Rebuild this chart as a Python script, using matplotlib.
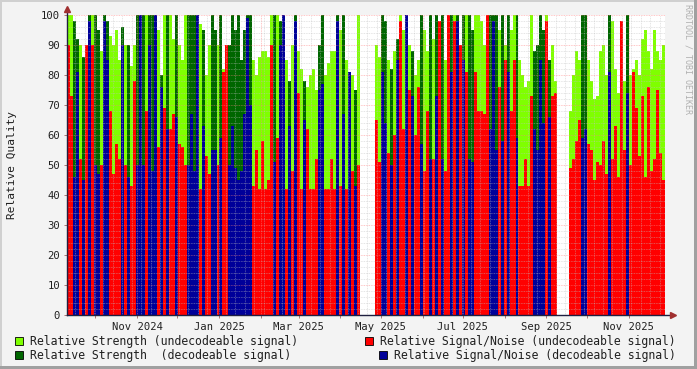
"""RRDtool-style relative quality chart (strength vs signal/noise)."""

import matplotlib

matplotlib.use("Agg")
import matplotlib.dates as mdates  # noqa: E402
import matplotlib.pyplot as plt  # noqa: E402
import numpy as np  # noqa: E402
import pandas as pd  # noqa: E402
from matplotlib.patches import Rectangle  # noqa: E402
from matplotlib.ticker import FuncFormatter, MultipleLocator  # noqa: E402

START = "2024-09-10"
END = "2025-11-28"

# one value per ~2.2 days, None = no data
strength = [
    100, 100, 98, 92, 90, 86, 88, 100, 100, 100, 95, 88, 100, 98, 93, 90, 95,
    85, 96, 90, 90, 83, 90, 100, 100, 100, 100, 100, 100, 100, 95, 80, 100,
    100, 100, 92, 100, 90, 85, 100, 100, 100, 100, 100, 97, 95, 80, 90, 100,
    95, 90, 100, 82, 90, 90, 100, 95, 100, 85, 95, 100, 100, 85, 80, 86, 88, 88,
    86, 100, 100, 100, 98, 100, 85, 78, 90, 100, 88, 82, 78, 76, 80, 82, 75,
    90, 100, 80, 84, 88, 88, 100, 95, 100, 85, 80, 80, 75, 100,
    None, None, None, None, None,
    90, 86, 100, 98, 85, 82, 88, 92, 100, 95, 100, 90, 88, 80, 85, 100, 95,
    88, 100, 92, 100, 95, 100, 85, 82, 100, 100, 100, 90, 100,
    100, 100, 95, 100, 100, 98, 90, 100, 100, 100, 100, 95, 100, 90, 100, 95,
    100, 100, 85, 80, 76, 78, 100, 88, 90, 100, 95, 100, 85, 90, 78,
    None, None, None, None,
    68, 80, 88, 85, 100, 100, 85, 78, 72, 73, 88, 90, 80, 100, 98, 82, 74, 95,
    78, 100, 80, 82, 85, 80, 92, 95, 88, 82, 95, 88, 85, 90,
]

snr = [
    90, 73, 46, 81, 52, 45, 90, 98, 90, 50, 47, 50, 98, 85, 68, 47, 57, 52,
    90, 50, 46, 43, 78, 50, 100, 50, 68, 90, 48, 100, 56, 76, 69,
    62, 62, 67, 66, 57, 56, 50, 50, 67, 48, 100, 42, 63, 53, 47, 55, 55, 50,
    59, 81, 90, 50, 63, 49, 45, 48, 67, 99, 70, 43, 55, 42, 58, 42,
    45, 90, 51, 59, 90, 100, 42, 63, 48, 98, 74, 42, 65, 62, 42, 42, 52, 75,
    77, 42, 42, 52, 42, 98, 43, 67, 42, 81, 48, 43, 50,
    None, None, None, None, None,
    65, 51, 81, 64, 54, 50, 60, 85, 98, 62, 100, 75, 73, 60, 76, 57, 48, 68,
    52, 52, 73, 98, 52, 48, 100, 81, 98, 98, 90, 85,
    81, 52, 51, 81, 68, 68, 67, 100, 62, 98, 55, 76, 58, 85, 81, 68, 85, 59,
    43, 43, 52, 43, 73, 62, 55, 85, 64, 98, 66, 73, 74,
    None, None, None, None,
    49, 52, 58, 65, 59, 62, 57, 55, 45, 51, 50, 58, 47, 81, 52, 63, 46, 98,
    55, 74, 50, 81, 69, 53, 73, 46, 76, 48, 52, 75, 54, 45,
]

# D = decodeable, U = undecodeable, - = no data
decoded = (
    "UUDDUDUDUDDUDDUUUUDUDUUDDDUDDDUDU"
    "DUUDUUUDDDDUDUUDDUDUUDDDDDDDDUUUUU"
    "UUDUDDUDUDUUDUUUUDDUUUUDUDUDUDU"
    "-----"
    "UUDDUDUDUUDUDUUDUUDUDUDUUDUDUD"
    "UDDUUUUUDDDUDUDUUDUUUUUDDDDUDUU"
    "----"
    "UUUUDDUUUUUUUDUUUUUDUUUUUUUUUUUU"
)

legend_labels = [
    "Relative Strength (undecodeable signal)",
    "Relative Strength  (decodeable signal)",
    "Relative Signal/Noise (undecodeable signal)",
    "Relative Signal/Noise (decodeable signal)",
]

LIGHT_GREEN = "#7FFF00"
DARK_GREEN = "#006600"
RED = "#FF0000"
BLUE = "#000099"
CANVAS = "#F3F3F3"
FONT = "DejaVu Sans Mono"

W, H = 697, 369

edges = mdates.date2num(pd.date_range(START, END, periods=len(strength) + 1).to_pydatetime())
starts = edges[:-1]
widths = np.diff(edges)
is_dec = np.array([c == "D" for c in decoded])
strength_arr = np.nan_to_num(np.array(strength, dtype=float), nan=0.0)
snr_arr = np.nan_to_num(np.array(snr, dtype=float), nan=0.0)

fig = plt.figure(figsize=(W / 100, H / 100), dpi=100, facecolor=CANVAS)
ax = fig.add_axes([67 / W, 54 / H, 598 / W, 300 / H])
ax.set_facecolor("white")

ax.bar(starts, strength_arr, width=widths, align="edge", linewidth=0,
       color=np.where(is_dec, DARK_GREEN, LIGHT_GREEN), antialiased=False, zorder=1)
ax.bar(starts, snr_arr, width=widths, align="edge", linewidth=0,
       color=np.where(is_dec, BLUE, RED), antialiased=False, zorder=1.1)

ax.set_xlim(edges[0], edges[-1])
ax.set_ylim(0, 100)

ax.yaxis.set_major_locator(MultipleLocator(10))
ax.yaxis.set_minor_locator(MultipleLocator(2))
ax.xaxis.set_major_locator(mdates.MonthLocator())
ax.xaxis.set_minor_locator(mdates.WeekdayLocator(byweekday=mdates.MO))


def _month_label(x, pos):
    d = mdates.num2date(x)
    return d.strftime("%b %Y") if d.month % 2 == 1 else ""


ax.xaxis.set_major_formatter(FuncFormatter(_month_label))

ax.set_axisbelow(False)
ax.grid(which="minor", color="#C0C0C0", alpha=0.55, linestyle=(0, (1, 1)), linewidth=0.6)
ax.grid(which="major", color="#FF8080", alpha=0.6, linestyle=(0, (1, 1)), linewidth=0.6)

for spine in ax.spines.values():
    spine.set_visible(False)
ax.tick_params(which="major", length=2, width=0.6, color="#A06060", pad=3)
ax.tick_params(which="minor", length=0)
for lbl in ax.get_xticklabels() + ax.get_yticklabels():
    lbl.set_fontfamily(FONT)
    lbl.set_fontsize(7.6)
    lbl.set_color("#202020")

# axes with arrow heads
ax.plot([0, 1.013], [0, 0], transform=ax.transAxes, color="#202040", linewidth=1, clip_on=False, zorder=5)
ax.plot([0, 0], [0, 1.02], transform=ax.transAxes, color="#202040", linewidth=1, clip_on=False, zorder=5)
ax.plot(1.013, 0, marker=">", markersize=4, color="#A03030", transform=ax.transAxes, clip_on=False, zorder=6)
ax.plot(0, 1.02, marker="^", markersize=4, color="#A03030", transform=ax.transAxes, clip_on=False, zorder=6)

fig.text(12 / W, 1 - 165 / H, "Relative Quality", rotation=90, ha="center", va="center",
         family=FONT, fontsize=8, color="#202020")
fig.text(688 / W, 1 - 4 / H, "RRDTOOL / TOBI OETIKER", rotation=270, ha="center", va="top",
         family=FONT, fontsize=6, color="#B0B0B0")

# legend
legend_pos = [(15, 337), (15, 351), (365, 337), (379, 351)]
legend_colors = [LIGHT_GREEN, DARK_GREEN, RED, BLUE]
for (lx, ly), color, text in zip(legend_pos, legend_colors, legend_labels):
    fig.patches.append(Rectangle((lx / W, 1 - (ly + 8) / H), 8 / W, 8 / H, transform=fig.transFigure,
                                 facecolor=color, edgecolor="#000000", linewidth=0.6))
    fig.text((lx + 15) / W, 1 - (ly + 4) / H, text, ha="left", va="center",
             family=FONT, fontsize=8.3, color="#202020")

# canvas border
fig.patches.append(Rectangle((0, 1 - 2 / H), 1, 2 / H, transform=fig.transFigure, facecolor="#D0D0D0", linewidth=0))
fig.patches.append(Rectangle((0, 0), 2 / W, 1, transform=fig.transFigure, facecolor="#D0D0D0", linewidth=0))
fig.patches.append(Rectangle((1 - 3 / W, 0), 3 / W, 1, transform=fig.transFigure, facecolor="#A0A0A0", linewidth=0))
fig.patches.append(Rectangle((0, 0), 1, 3 / H, transform=fig.transFigure, facecolor="#A0A0A0", linewidth=0))

fig.savefig("out.png", dpi=100, facecolor=CANVAS)
plt.close(fig)
